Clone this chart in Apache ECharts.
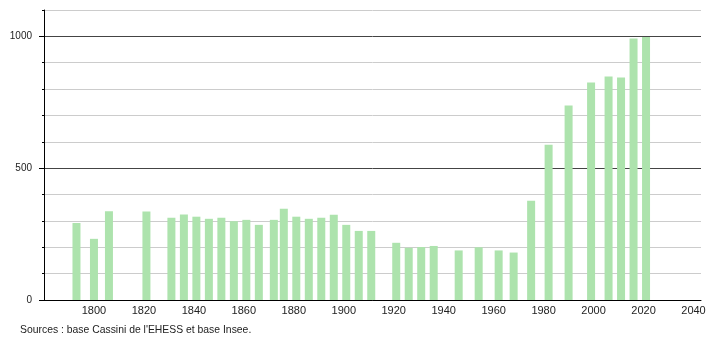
<!DOCTYPE html>
<html><head><meta charset="utf-8">
<script src="https://cdn.jsdelivr.net/npm/echarts@6/dist/echarts.min.js"></script>
<style>html,body{margin:0;padding:0;background:#fff}#c{width:710px;height:340px}</style>
</head><body><div id="c"></div>
<script>
const years = [1793,1800,1806,1821,1831,1836,1841,1846,1851,1856,1861,1866,1872,1876,1881,1886,1891,1896,1901,1906,1911,1921,1926,1931,1936,1946,1954,1962,1968,1975,1982,1990,1999,2006,2011,2016,2021];
const population = [292,232,337,336,312,324,316,308,312,299,304,285,304,346,316,308,312,323,285,262,262,217,198,201,205,188,200,188,180,376,589,738,825,848,844,992,998];
const xTickLabels = [1800,1820,1840,1860,1880,1900,1920,1940,1960,1980,2000,2020,2040];
const yTickLabels = [0,500,1000];
const sourceText = "Sources : base Cassini de l'EHESS et base Insee.";

const chart = echarts.init(document.getElementById('c'), null, {renderer:'canvas'});
const font = 'Liberation Sans, Arial, sans-serif';
const gridLeft = 44, gridRight = 9;
chart.setOption({
  animation:false,
  grid:{left:gridLeft,right:gridRight,top:10,bottom:40},
  title:{text:sourceText,left:15,top:320,textStyle:{fontSize:10.4,fontWeight:'normal',color:'#222',fontFamily:font}},
  xAxis:{type:'value',min:1780,max:2043,interval:20,
    axisLine:{show:true,onZero:false,lineStyle:{color:'#000',width:1}},
    axisTick:{show:false},splitLine:{show:false},
    axisLabel:{customValues:xTickLabels,formatter:v=>String(v),color:'#222',fontSize:11,fontFamily:font,margin:5}},
  yAxis:[{type:'value',min:0,max:1100,interval:100,position:'left',
    axisLine:{show:true,lineStyle:{color:'#000',width:1}},
    axisTick:{show:true,length:2,lineStyle:{color:'#000'}},
    axisLabel:{customValues:yTickLabels,formatter:v=>String(v),color:'#222',fontSize:10,fontFamily:font,margin:12},
    splitLine:{show:true,lineStyle:{color:['#444','#ccc','#ccc','#ccc','#ccc'],width:1}}},
   {type:'value',min:0,max:1100,position:'right',offset:-(710-gridLeft-gridRight),
    axisLine:{show:false},splitLine:{show:false},axisLabel:{show:false},
    axisTick:{show:true,inside:true,length:5,customValues:yTickLabels,lineStyle:{color:'#000'}}}],
  series:[{type:'bar',barWidth:8,
    itemStyle:{color:'#ade3ad'},
    data:years.map((y,i)=>[y,population[i]])}]
});
</script></body></html>
